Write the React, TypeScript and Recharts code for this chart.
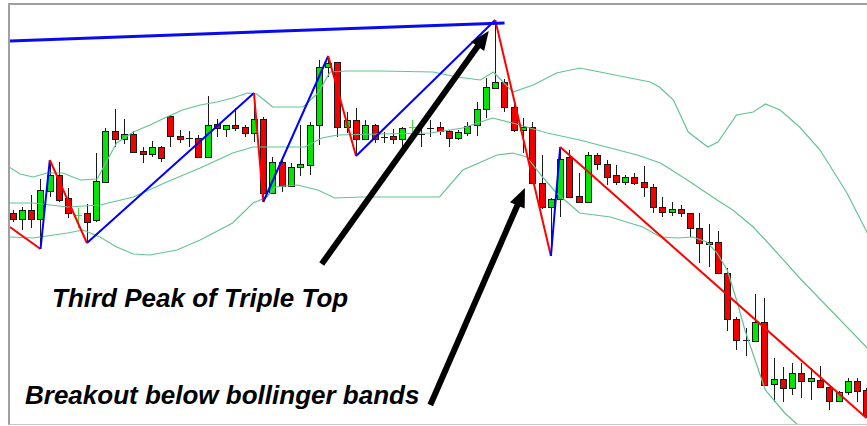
import React from "react";
import { Bar, ComposedChart, Line, ReferenceLine, XAxis, YAxis } from "recharts";

// candle prices (arbitrary price units, one entry per bar)
const OPEN = [
  287, 281, 290, 281, 309, 325, 302, 285, 287, 280,
  318, 369, 361, 366, 349, 346, 353, 384, 364, 362,
  362, 343, 376, 371, 375, 373, 367, 381, 307, 338,
  314, 333, 335, 375, 433, 438, 373, 380, 361, 375,
  363, 364, 361, 373, 366, 372, 373, 369, 362, 367,
  375, 391, 412, 418, 393, 370, 373, 317, 293, 301,
  343, 304, 298, 345, 336, 325, 318, 323, 318, 313,
  293, 288, 291, 287, 272, 256, 258, 227, 181, 160,
  159, 178, 116, 121, 112, 127, 119, 120, 113, 99,
  108, 119, 110,
];
const CLOSE = [
  281, 290, 281, 310, 325, 300, 287, 285, 278, 319,
  369, 361, 366, 348, 346, 353, 342, 364, 361, 362,
  343, 375, 372, 375, 372, 367, 381, 307, 338, 314,
  333, 336, 375, 433, 437, 373, 380, 361, 375, 361,
  363, 361, 372, 373, 366, 372, 369, 362, 368, 374,
  391, 413, 418, 393, 370, 373, 317, 293, 301, 341,
  303, 298, 345, 336, 323, 318, 323, 317, 313, 293,
  288, 291, 287, 272, 257, 258, 227, 181, 160, 160,
  178, 115, 121, 112, 127, 119, 122, 113, 99, 108,
  119, 109, 85,
];
const HIGH = [
  290, 293, 305, 321, 340, 338, 312, 292, 296, 347,
  372, 391, 381, 369, 353, 359, 354, 385, 370, 369,
  365, 404, 381, 375, 392, 375, 407, 383, 343, 343,
  337, 375, 378, 440, 444, 438, 388, 392, 380, 376,
  368, 371, 373, 380, 375, 380, 378, 370, 370, 378,
  398, 422, 480, 421, 397, 382, 378, 345, 302, 353,
  350, 327, 348, 347, 340, 335, 325, 327, 334, 316,
  303, 298, 295, 287, 287, 276, 269, 232, 183, 172,
  206, 202, 142, 133, 137, 137, 132, 134, 113, 109,
  122, 122, 112,
];
const LOW = [
  278, 270, 272, 251, 303, 298, 282, 272, 257, 278,
  317, 353, 356, 347, 337, 343, 338, 353, 357, 353,
  342, 343, 363, 363, 369, 363, 358, 298, 307, 308,
  313, 324, 325, 355, 423, 363, 367, 344, 360, 357,
  357, 356, 353, 368, 353, 363, 365, 353, 360, 364,
  364, 382, 412, 388, 368, 347, 316, 291, 244, 283,
  302, 297, 297, 330, 315, 315, 315, 315, 303, 287,
  283, 284, 283, 263, 237, 233, 226, 169, 150, 144,
  158, 115, 98, 98, 105, 102, 100, 112, 90, 98,
  105, 98, 82,
];
// dojis the platform drew as light green crosses
const CROSS_BARS = [7, 43];

// bollinger bands, [bar index, value]
const UPPER_BAND = [
  [-0.4, 333], [0.8, 326], [2.2, 323], [3.7, 327], [5.4, 327], [7.3, 320], [9.1, 321], [10.2, 340],
  [11.2, 357], [13, 368], [14.8, 375], [16.6, 383], [18.3, 390], [20.2, 395], [22, 398], [23.7, 402],
  [25.3, 407], [26.3, 406], [27.5, 397], [28, 393], [31.3, 393], [32.9, 407], [34.2, 428], [36, 429],
  [39.6, 429], [45.3, 428], [47.9, 423], [50.4, 420], [51.8, 428], [53.9, 408], [56.1, 415], [58.6, 427],
  [61.1, 432], [63.3, 428], [68.7, 418], [69.7, 413], [71.2, 400], [72.8, 368], [74.9, 353], [76, 358],
  [78, 385], [79.8, 388], [81.1, 396], [82.7, 390], [84.8, 373], [87, 350], [89.9, 307], [92.1, 267],
];
const MID_BAND = [
  [-0.3, 297], [2.2, 297], [5.9, 293], [9.4, 295], [13, 303], [16.6, 318], [20.2, 332], [23.7, 347],
  [25.9, 353], [28, 353], [31.5, 353], [33.3, 362], [35, 365], [39.6, 366], [45, 367], [48.5, 372],
  [51.7, 382], [53.9, 377], [57.6, 367], [61.1, 360], [67.3, 345], [69.8, 337], [72.7, 320], [75.9, 300],
  [77.6, 290], [79.8, 273], [81.9, 252], [84.8, 222], [92.1, 152],
];
const LOWER_BAND = [
  [-0.3, 263], [2.2, 262], [5.9, 267], [7.6, 270], [9.4, 263], [11.2, 253], [13, 246], [14.8, 245],
  [17.7, 250], [20.2, 260], [23.7, 277], [25.9, 297], [27.4, 303], [28.3, 313], [30.7, 315], [32.9, 310],
  [34.7, 302], [37.7, 303], [46, 303], [48.5, 330], [52.2, 345], [53.9, 347], [55.4, 343], [57.1, 323],
  [58.6, 307], [61.1, 287], [64.4, 283], [67.9, 273], [69.8, 263], [71.6, 262], [73.3, 263], [74.8, 258],
  [75.9, 247], [77, 230], [78.1, 197], [78.9, 170], [81.1, 110], [83.2, 87], [84.5, 76], [85.5, 66],
];

// zigzag pivots
const ZZ_IDX = [-0.3, 3, 4, 8, 26, 27, 34, 37, 52, 58, 59, 92];
const ZZ_VAL = [273, 251, 340, 257, 407, 298, 444, 344, 480, 244, 353, 82];

// hand drawn resistance line over the peaks
const TREND = [[-0.3, 459], [53, 477]];

// annotation arrows [from, to]
const ARROWS = [
  [[33.3, 236], [51.3, 469]],
  [[45, 95], [55.2, 312]],
];

const W = 867;
const H = 426;
const UP = "#00e600";
const DOWN = "#f20000";
const OUTLINE = "#1a1a1a";
const BAND = "#62c493";

const candles = OPEN.map((o, i) => ({ i, o, c: CLOSE[i], h: HIGH[i], l: LOW[i], range: [LOW[i], HIGH[i]] }));
const toPts = (arr: number[][]) => arr.map(([i, v]) => ({ i, v }));

const zigzag = ZZ_IDX.slice(1).map((idx, k) => ({
  pts: [{ i: ZZ_IDX[k], v: ZZ_VAL[k] }, { i: idx, v: ZZ_VAL[k + 1] }],
  color: ZZ_VAL[k + 1] > ZZ_VAL[k] ? "#0000ff" : "#ff0000",
}));

function Candle(props: any) {
  const { x, y, width, height, payload } = props;
  const { o, c, h, l, i } = payload;
  const span = h - l || 1;
  const toY = (v: number) => y + ((h - v) / span) * height;
  const left = Math.round(x + width / 2) - 3;
  const top = toY(Math.max(o, c));
  const bot = toY(Math.min(o, c));
  const cross = CROSS_BARS.includes(i);
  const wickColor = cross ? "#3ee03e" : OUTLINE;
  return (
    <g>
      <rect x={left + 3} y={toY(h)} width={1} height={toY(l) - toY(h)} fill={wickColor} />
      {o === c ? (
        <rect x={left} y={Math.round(top)} width={7} height={1} fill={wickColor} />
      ) : (
        <rect
          x={left + 0.5}
          y={Math.round(top) + 0.5}
          width={6}
          height={Math.max(Math.round(bot) - Math.round(top), 2)}
          fill={c > o ? UP : DOWN}
          stroke={OUTLINE}
          strokeWidth={1}
        />
      )}
    </g>
  );
}

function Arrow(props: any) {
  const { x1, y1, x2, y2 } = props;
  const len = Math.hypot(x2 - x1, y2 - y1);
  const ux = (x2 - x1) / len;
  const uy = (y2 - y1) / len;
  const head = 19;
  const hw = 8;
  const bx = x2 - ux * head;
  const by = y2 - uy * head;
  return (
    <g>
      <line x1={x1} y1={y1} x2={bx + ux * 2} y2={by + uy * 2} stroke="#000" strokeWidth={6} />
      <polygon points={`${x2},${y2} ${bx - uy * hw},${by + ux * hw} ${bx + uy * hw},${by - ux * hw}`} fill="#000" />
    </g>
  );
}

export default function App() {
  return (
    <div style={s.page}>
      <ComposedChart width={W} height={H} data={candles} margin={{ top: 5, right: 0, bottom: 2, left: 10 }}>
        <XAxis dataKey="i" type="number" domain={[-0.29, 92.06]} allowDataOverflow hide />
        <YAxis type="number" domain={[76, 495]} allowDataOverflow hide />
        <Line data={toPts(UPPER_BAND)} dataKey="v" stroke={BAND} strokeWidth={1.2} dot={false} isAnimationActive={false} />
        <Line data={toPts(MID_BAND)} dataKey="v" stroke={BAND} strokeWidth={1.2} dot={false} isAnimationActive={false} />
        <Line data={toPts(LOWER_BAND)} dataKey="v" stroke={BAND} strokeWidth={1.2} dot={false} isAnimationActive={false} />
        <Bar dataKey="range" barSize={7} shape={Candle} isAnimationActive={false} />
        {zigzag.map((seg, k) => (
          <Line key={`zz${k}`} data={seg.pts} dataKey="v" stroke={seg.color} strokeWidth={2} dot={false} isAnimationActive={false} />
        ))}
        <Line data={toPts(TREND)} dataKey="v" stroke="#0a0aee" strokeWidth={3} dot={false} isAnimationActive={false} />
        {ARROWS.map(([a, b], k) => (
          <ReferenceLine
            key={`ar${k}`}
            segment={[{ x: a[0], y: a[1] }, { x: b[0], y: b[1] }]}
            ifOverflow="visible"
            shape={Arrow}
          />
        ))}
      </ComposedChart>
      <svg width={W} height={H} style={s.overlay}>
        <text x={52} y={307} style={s.note}>Third Peak of Triple Top</text>
        <text x={25} y={404} style={s.note}>Breakout below bollinger bands</text>
      </svg>
      <div style={s.frame} />
    </div>
  );
}

const s: Record<string, React.CSSProperties> = {
  page: { position: "absolute", left: 0, top: 0, width: W, height: H, background: "#fff", overflow: "hidden" },
  overlay: { position: "absolute", left: 0, top: 0, pointerEvents: "none" },
  note: { fontFamily: "Arial, 'Liberation Sans', sans-serif", fontWeight: 700, fontStyle: "italic", fontSize: 26, fill: "#000" },
  frame: {
    position: "absolute", left: 8, top: 3, width: 880, height: 422, boxSizing: "border-box",
    borderLeft: "2px solid #a0a0a0", borderTop: "2px solid #a0a0a0", borderBottom: "1px solid #c8c8c8", pointerEvents: "none",
  },
};
